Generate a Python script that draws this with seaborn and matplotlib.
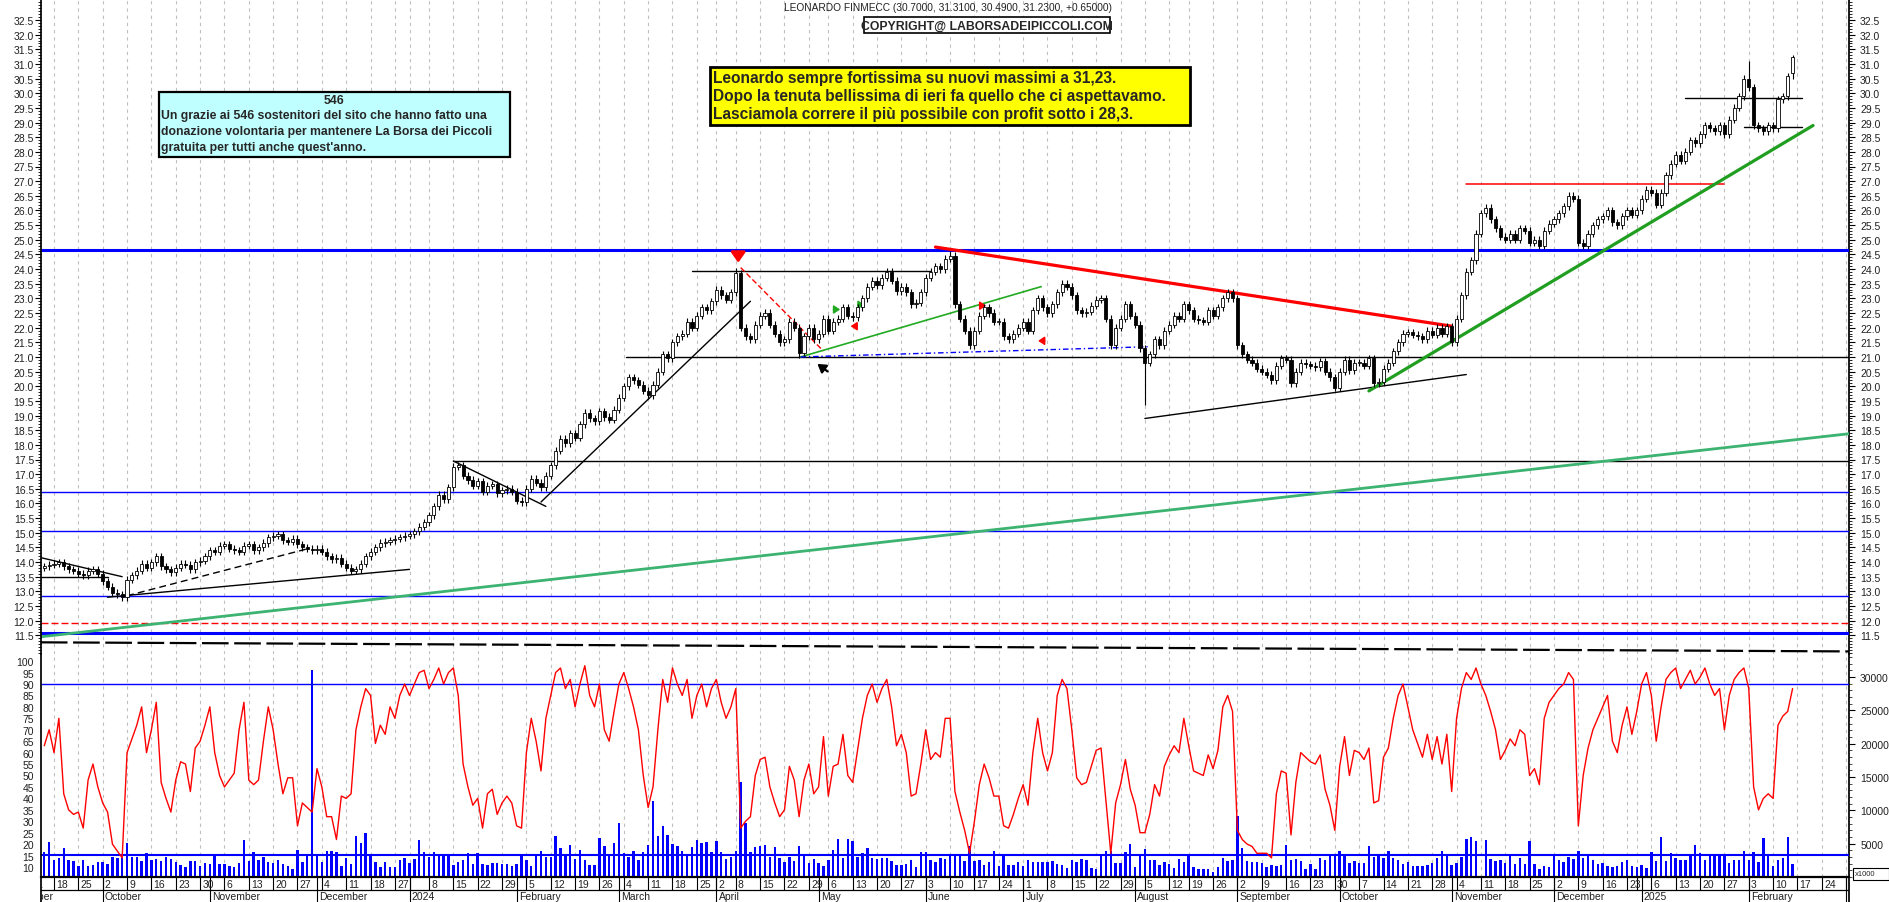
import numpy as np
import pandas as pd
import matplotlib
matplotlib.use("Agg")
import matplotlib.pyplot as plt
from matplotlib.patches import Rectangle
from matplotlib.ticker import MultipleLocator, FormatStrFormatter
import seaborn as sns

sns.set_theme(style="white")
plt.rcParams["font.family"] = ["Liberation Sans", "DejaVu Sans"]

# ------------------------------------------------------------------ data
title_text = "LEONARDO FINMECC (30.7000, 31.3100, 30.4900, 31.2300, +0.65000)"
copyright_text = "COPYRIGHT@ LABORSADEIPICCOLI.COM"
note_lines = ["Leonardo sempre fortissima su nuovi massimi a 31,23.",
              "Dopo la tenuta bellissima di ieri fa quello che ci aspettavamo.",
              "Lasciamola correre il più possibile con profit sotto i 28,3."]
thanks_title = "546"
thanks_lines = ["Un grazie ai 546 sostenitori del sito che hanno fatto una",
                "donazione volontaria per mantenere La Borsa dei Piccoli",
                "gratuita per tutti anche quest'anno."]

holidays = ["2023-12-25", "2023-12-26", "2024-01-01", "2024-03-29", "2024-04-01",
            "2024-05-01", "2024-08-15", "2024-12-24", "2024-12-25", "2024-12-26",
            "2024-12-31", "2025-01-01"]
first_trading_day = "2023-09-14"
axis_last_day = "2025-03-07"
month_names = ["", "January", "February", "March", "April", "May", "June", "July",
               "August", "September", "October", "November", "December"]

first_open = 13.80
last_open = 30.70

# daily closes (Sep 14 2023 - Dec 29 2023)
close_2023 = [13.85, 13.90,
              13.95, 14.00, 13.85, 13.75, 13.70,
              13.60, 13.55, 13.70, 13.75, 13.60,
              13.35, 13.15, 12.95, 12.90, 12.80,
              13.40, 13.55, 13.70, 13.95, 13.80,
              14.00, 14.20, 13.85, 13.75, 13.65,
              13.80, 13.95, 13.90, 13.75, 14.00,
              14.05, 14.20,
              14.40, 14.35, 14.55,
              14.60, 14.45, 14.40, 14.35, 14.55,
              14.60, 14.40, 14.50, 14.65, 14.85,
              14.90, 14.95, 14.75, 14.70, 14.80,
              14.60, 14.50, 14.45, 14.40,
              14.45,
              14.35, 14.20, 14.10, 14.15, 13.95,
              13.80, 13.70, 13.75, 13.95, 14.20,
              14.35, 14.50, 14.65, 14.70, 14.75,
              14.80, 14.85, 14.90]
# Jan 2 2024 - Apr 30 2024
close_2024a = [14.95, 15.05, 15.20, 15.35,
               15.60, 15.90, 16.30, 16.15, 16.55,
               17.25, 17.30, 16.95, 16.80, 16.60,
               16.75, 16.40, 16.60, 16.65, 16.35,
               16.45, 16.50, 16.40, 16.10, 16.05,
               16.50, 16.85, 16.70, 16.55, 16.95,
               17.30, 17.80, 18.20, 18.05, 18.40,
               18.25, 18.70, 19.10, 18.90, 18.80,
               19.15, 18.95, 18.85, 19.20, 19.60,
               20.00, 20.30, 20.20, 20.05, 19.85,
               19.70, 20.05, 20.50, 21.10, 20.95,
               21.50, 21.70, 21.80, 22.20, 22.00,
               22.40, 22.70, 22.60, 22.90,
               23.30, 23.10, 22.95, 23.20,
               23.85, 22.00, 21.70, 21.60, 22.10,
               22.40, 22.50, 22.10, 21.80, 21.50,
               21.60, 22.20, 22.00, 21.15, 21.70,
               22.00, 21.60]
# May 2 2024 - Aug 30 2024
close_2024b = [21.80, 22.30,
               21.90, 22.20, 22.30, 22.70, 22.40,
               22.35, 22.70, 23.00, 23.40, 23.60,
               23.45, 23.70, 23.90, 23.60, 23.25,
               23.40, 23.20, 22.80, 22.85, 23.20,
               23.70, 23.90, 24.10, 24.00, 24.35,
               24.45, 22.80, 22.30, 21.90, 21.40,
               21.90, 22.40, 22.70, 22.50, 22.20,
               22.20, 21.70, 21.60, 21.80, 22.00,
               22.20, 21.90, 22.60, 23.00, 22.70,
               22.50, 22.80, 23.20, 23.50, 23.40,
               23.10, 22.60, 22.50, 22.55, 22.75,
               22.95, 23.00, 22.30, 21.40, 22.00,
               22.30, 22.80, 22.40, 22.10, 21.30,
               20.80, 21.10, 21.60, 21.40, 21.90,
               22.10, 22.40, 22.30, 22.80,
               22.60, 22.30, 22.25, 22.20, 22.60,
               22.40, 22.70, 23.00, 23.20, 23.00]
# Sep 2 2024 - Dec 30 2024
close_2024c = [21.40, 21.10, 20.90, 20.80, 20.60,
               20.50, 20.40, 20.20, 20.70, 20.95,
               20.90, 20.10, 20.50, 20.80, 20.75,
               20.70, 20.65, 20.85, 20.50, 20.30,
               19.95, 20.50, 20.90, 20.55, 20.80,
               20.80, 20.70, 20.95, 20.10, 20.15,
               20.60, 20.80, 21.20, 21.50, 21.80,
               21.85, 21.75, 21.70, 21.60, 21.90,
               21.75, 22.00, 21.80, 22.05, 21.50,
               22.30, 23.10, 23.90, 24.30, 25.20,
               25.90, 26.10, 25.70, 25.40, 25.10,
               25.00, 25.20, 25.00, 25.40, 25.30,
               24.90, 25.00, 24.80, 25.30, 25.55,
               25.70, 25.90, 26.15, 26.50, 26.40,
               24.90, 24.80, 25.20, 25.50, 25.70,
               25.80, 26.00, 25.60, 25.50, 25.80,
               26.00, 25.85, 26.00]
# Jan 2 2025 - Feb 14 2025
close_2025 = [26.40, 26.70,
              26.60, 26.20, 26.60, 27.20, 27.60,
              27.90, 27.70, 28.00, 28.40, 28.30,
              28.60, 28.90, 28.80, 28.70, 28.90,
              28.60, 29.10, 29.50, 29.90, 30.50,
              30.20, 28.90, 28.80, 28.70, 28.90,
              28.80, 29.80, 29.90, 30.58, 31.23]

# notable wick extremes (day index -> price)
wick_high = {142: 24.05, 186: 24.60, 350: 31.10, 359: 31.31}
wick_low = {155: 20.95, 226: 19.35, 359: 30.49}

# lower-panel oscillator (red line)
osc_2023 = [63, 70, 60, 75, 42, 35, 33, 34, 27, 48, 55, 45,
            38, 34, 20, 17, 14,
            60, 66, 72, 80, 60,
            70, 82, 47, 40, 34,
            48, 56, 55, 43, 62,
            65, 72,
            80, 60, 50,
            45, 48, 51, 70, 82,
            48, 46, 48, 65, 80,
            70, 55, 42, 49, 49,
            28, 38, 36, 34,
            53,
            45, 32, 32, 22, 41,
            40, 42, 70, 80, 88,
            85, 64, 72, 68, 80,
            75, 85, 90]
osc_2024a = [85, 90, 95, 96,
             88, 92, 97, 90, 95,
             97, 85, 55, 45, 37,
             40, 27, 42, 44, 33,
             38, 41, 38, 28, 27,
             60, 75, 65, 52, 75,
             85, 95, 97, 88, 92,
             80, 90, 98, 85, 80,
             90, 70, 65, 78, 90,
             95, 88, 80, 70, 50,
             36, 45, 70, 92, 82,
             97, 90, 85, 92, 75,
             85, 90, 80, 88,
             92, 82, 75, 80,
             88, 27, 30, 32, 50,
             57, 58, 45, 38, 32,
             35, 54, 48, 32, 48,
             55, 42]
osc_2024b = [45, 67,
             41, 54, 55, 68, 50,
             47, 61, 75, 85, 90,
             82, 88, 92, 80, 63,
             68, 60, 41, 42, 55,
             70, 57, 60, 58, 75,
             75, 43, 34, 26, 16,
             30, 46, 55, 49, 41,
             41, 28, 27, 33, 40,
             46, 37, 60, 75, 60,
             52, 60, 85, 92, 88,
             70, 49, 46, 47, 54,
             61, 62, 39, 16, 38,
             46, 57, 44, 37, 25,
             25, 33, 46, 41, 54,
             59, 63, 60, 75,
             63, 52, 51, 50, 59,
             53, 61, 80, 85, 78]
osc_2024c = [26, 22, 20, 19, 16,
             16, 16, 14, 42, 52,
             51, 24, 47, 60, 58,
             56, 55, 59, 44, 37,
             26, 54, 67, 50, 61,
             60, 57, 62, 38, 39,
             58, 62, 75, 85, 90,
             80, 70, 64, 58, 68,
             57, 67, 55, 68, 43,
             75, 88, 95, 92, 97,
             90, 85, 78, 70, 57,
             61, 66, 63, 70, 68,
             50, 53, 46, 75, 82,
             85, 88, 90, 95, 92,
             28, 50, 62, 70, 75,
             80, 85, 65, 60, 72,
             80, 68, 78]
osc_2025 = [90, 95,
            85, 65, 80, 92, 95,
            97, 88, 92, 96, 90,
            93, 97, 90, 85, 88,
            70, 85, 92, 95, 97,
            88, 45, 35, 40, 42,
            40, 72, 76, 78, 88]

# volume (right scale, x1000)
vol_2023 = [3700, 5200, 2550, 2850, 4300, 2550, 2450, 1700, 2550, 1700,
            1800, 2200, 2200, 1950, 3050, 2850, 2950, 5100, 3050, 2950,
            2450, 3550, 2550, 2700, 2450, 2950, 2700, 2200, 1800, 1450,
            2350, 2450, 1600, 2050, 1950, 3100, 1950, 1950, 1700, 1450,
            2050, 5600, 2450, 3800, 2550, 3050, 2200, 2050, 2550, 1950,
            1700, 1250, 4050, 2300, 3250, 31000, 3200, 2200, 3850, 3850,
            3700, 1700, 2800, 1950, 6200, 5100, 6550, 3100, 2300, 1450,
            2200, 1450, 1450, 2550, 2800]
vol_2024a = [2050, 2700, 5550, 3700, 3050, 3700,
             3200, 3350, 3200, 1800, 2300, 2600, 3600, 1950, 3600, 1950,
             1850, 2150, 2150, 1950, 1950, 1700, 1950, 3300, 2550, 1700,
             3450,
             3950, 2950, 2950, 6200, 4350, 3300, 4850, 2700, 4100, 2550,
             1850, 1850, 5800, 4650, 3200, 5100, 8100, 3600, 3050, 3850,
             2600, 3700, 4800, 11450, 6200, 7700, 6350, 4950, 4600, 3950,
             3200, 4450, 5550, 5050, 5200, 3700, 5450, 3700, 2700, 3050,
             3850, 14200, 8050, 3700, 4450, 4700, 4800, 2950, 4450, 2850,
             2200, 3050, 2450, 4700,
             3350, 2050, 2700]
vol_2024b = [2100, 1700, 2600, 4100, 5700, 2850, 5700, 5350, 2950, 3600,
             4350, 2850, 2700, 2800, 2850, 2450, 1800, 1800, 1950, 2600,
             1550, 3700, 3800, 2600, 2300, 2800, 2700, 3350, 3350, 3100,
             2350, 4700, 2450, 2550, 1800, 2300, 3950, 1700, 3350, 1800,
             1800, 2300, 1600, 2550, 2300, 2200, 2200, 2300, 2450, 1950,
             1850, 1300, 2600, 2200, 2700, 2550, 1350, 1200, 3350, 3850,
             3850, 2050, 2050, 3800, 4950, 1550, 3350, 4200, 2550, 2550,
             1800, 2200, 1950, 1350, 2700, 2300, 3300, 1550, 1200, 1200,
             1200, 800, 1550, 2800, 2450, 2550]
vol_2024c = [9200, 4350, 2450, 2300, 2200, 2050, 1550, 1800, 1700, 1800,
             4800, 2600, 2700, 2450, 1200, 1950, 1200, 2800, 2550, 3350,
             3450, 3850, 3350, 2050, 2350, 2100, 2100, 4600, 3050, 3100,
             2850, 3850, 2850, 2550, 1950, 2200, 1700, 1600, 1700,
             1800,
             2050, 2800, 3850, 3350, 1800, 2100, 3050, 5700, 5950, 5350,
             200, 5550, 2700, 2450, 2550, 2050, 3350, 1950, 2800, 1950,
             5350, 1950, 1200, 1700, 1550, 3350, 2550, 2300, 2950, 2700,
             3850, 2800, 3350, 2600, 1950, 2100, 1700, 1450, 1700, 2300,
             2550, 1700, 1450]
vol_2025 = [1800, 1300, 3700, 2350, 5950, 2450, 3550, 2850,
            2600, 2550, 3300, 4800, 3600, 2550, 3300, 3350, 3300, 3300,
            2100, 2550, 2600, 3850, 2550, 3700, 2200, 5800, 3350, 1600,
            2550, 2850, 5950, 1950]

# horizontal levels (price)
blue_levels_thick = [24.66, 11.57]
blue_levels_thin = [16.38, 15.05, 12.85]
red_dashed_level = 11.91
osc_level = 90
vol_level = 3350

# drawn trend lines: (day0, price0, day1, price1)
black_lines = [(-0.7, 14.15, 16, 13.50), (-0.7, 13.50, 13, 13.50),
               (13, 12.80, 75, 13.75), (84, 17.45, 103, 15.90),
               (102, 16.05, 145, 22.90), (133, 23.95, 182, 23.95),
               (226, 18.90, 292, 20.40), (337, 29.85, 361, 29.85),
               (349, 28.85, 361, 28.85)]
black_dashed_lines = [(17, 12.85, 54, 14.45)]
black_long_levels = [(84, 17.44), (119.5, 21.0)]
bottom_dashed = (-0.7, 11.26, 370.6, 10.95)
red_thick_lines = [(183, 24.75, 289, 22.05)]
red_hline = (292, 26.90, 345, 26.90)
red_dashed_lines = [(143, 24.05, 160, 21.20)]
green_thin_lines = [(155.3, 21.0, 204.7, 23.4)]
green_thick_lines = [(272, 19.84, 363.2, 28.90)]
green_long_line = (-0.7, 11.45, 370.6, 18.38)
blue_dashdot_lines = [(155.3, 21.0, 227, 21.35)]

# ------------------------------------------------------------------ calendar
cal = pd.bdate_range("2023-09-01", axis_last_day)
cal = cal[~cal.isin(pd.to_datetime(holidays))]
pos0 = cal.get_loc(pd.Timestamp(first_trading_day))
cal_idx = np.arange(len(cal)) - pos0

close = np.array(close_2023 + close_2024a + close_2024b + close_2024c + close_2025, float)
osc = np.array(osc_2023 + osc_2024a + osc_2024b + osc_2024c + osc_2025, float)
vol = np.array(vol_2023 + vol_2024a + vol_2024b + vol_2024c + vol_2025, float)
n = len(close)
x = np.arange(n)
xo = np.arange(len(osc))
xv = np.arange(len(vol))

# ------------------------------------------------------------------ figure
W, H = 1890, 903
fig = plt.figure(figsize=(W / 100, H / 100), dpi=100)
fig.patch.set_facecolor("white")
L, R = 41, 1849
Y_PB, Y_OB, Y_END = 655, 878, 903
XMIN = 2 + (L - 54) / 4.87
XMAX = 2 + (R - 54) / 4.87


def fbox(x0, y0, x1, y1):
    return [x0 / W, 1 - y1 / H, (x1 - x0) / W, (y1 - y0) / H]


ax_p = fig.add_axes(fbox(L, 0, R, Y_PB))
ax_v = fig.add_axes(fbox(L, Y_PB, R, Y_OB))
ax_o = fig.add_axes(fbox(L, Y_PB, R, Y_OB), sharex=ax_v)
ax_x = fig.add_axes(fbox(L, Y_OB, R, Y_END))
ax_pr = ax_p.twinx()

for a in (ax_p, ax_v, ax_o, ax_x, ax_pr):
    a.set_xlim(XMIN, XMAX)
    a.set_facecolor("none")
    for s in a.spines.values():
        s.set_visible(False)
ax_v.set_zorder(1)
ax_o.set_zorder(2)
ax_p.set_zorder(2)

P_TOP, P_BOT = 32.5 + 21 / 29.3, 32.5 - (Y_PB - 21) / 29.3
ax_p.set_ylim(P_BOT, P_TOP)
ax_pr.set_ylim(P_BOT, P_TOP)
O_TOP, O_BOT = 90 + (685 - Y_PB) / 2.2875, 90 - (Y_OB - 685) / 2.2875
ax_o.set_ylim(O_BOT, O_TOP)
ax_v.set_ylim(0, (Y_OB - Y_PB) / 6.67 * 1000)

tick_kw = dict(direction="out", colors="black", labelcolor="#202020", labelsize=7.5)
# left price axis
ax_p.spines["left"].set_visible(True)
ax_p.spines["left"].set_color("black")
ax_p.yaxis.set_major_locator(MultipleLocator(0.5))
ax_p.yaxis.set_minor_locator(MultipleLocator(0.1))
ax_p.yaxis.set_major_formatter(FormatStrFormatter("%.1f"))
ax_p.tick_params(axis="y", which="major", length=4, width=0.8, pad=1, **tick_kw)
ax_p.tick_params(axis="y", which="minor", length=2, width=0.6, direction="out", colors="black")
ax_p.set_yticks([v for v in np.arange(11.5, 32.51, 0.5)])
ax_p.set_xticks([])
# right price axis
ax_pr.spines["right"].set_visible(True)
ax_pr.spines["right"].set_color("black")
ax_pr.set_yticks([v for v in np.arange(11.5, 32.51, 0.5)])
ax_pr.yaxis.set_minor_locator(MultipleLocator(0.1))
ax_pr.yaxis.set_major_formatter(FormatStrFormatter("%.1f"))
ax_pr.tick_params(axis="y", which="major", length=4, width=0.8, pad=4, **tick_kw)
ax_pr.tick_params(axis="y", which="minor", length=2, width=0.6, direction="out", colors="black")
# oscillator axis (left)
ax_o.spines["left"].set_visible(True)
ax_o.spines["left"].set_color("black")
ax_o.spines["bottom"].set_visible(True)
ax_o.spines["bottom"].set_color("black")
ax_o.spines["bottom"].set_linewidth(1.6)
ax_o.set_yticks(np.arange(10, 101, 5))
ax_o.yaxis.set_minor_locator(MultipleLocator(1))
ax_o.tick_params(axis="y", which="major", length=4, width=0.8, pad=1, **tick_kw)
ax_o.tick_params(axis="y", which="minor", length=2, width=0.5, direction="out", colors="black")
ax_o.tick_params(axis="x", which="both", bottom=False, labelbottom=False)
# volume axis (right)
ax_v.spines["right"].set_visible(True)
ax_v.spines["right"].set_color("black")
ax_v.yaxis.tick_right()
ax_v.set_yticks(np.arange(5000, 30001, 5000))
ax_v.yaxis.set_minor_locator(MultipleLocator(1000))
ax_v.yaxis.set_major_formatter(FormatStrFormatter("%d"))
ax_v.tick_params(axis="y", which="major", length=4, width=0.8, pad=4, **tick_kw)
ax_v.tick_params(axis="y", which="minor", length=2, width=0.5, direction="out", colors="black")
ax_v.tick_params(axis="x", which="both", bottom=False, labelbottom=False)

# ------------------------------------------------------------------ calendar labels
week_key = [(d.isocalendar()[0], d.isocalendar()[1]) for d in cal]
week_first = {}
for k, wk in enumerate(week_key):
    week_first.setdefault(wk, k)
year_first = {}
month_first = {}
for k, d in enumerate(cal):
    year_first.setdefault(d.year, k)
    month_first.setdefault((d.year, d.month), k)
year_first_weeks = {week_key[k] for k in year_first.values()}

grid_kw = dict(color="#c0c0c0", lw=0.8, ls=(0, (3.0, 3.5)), zorder=0)
for wk, k in week_first.items():
    xi = cal_idx[k]
    if XMIN < xi < XMAX:
        ax_p.axvline(xi, **grid_kw)
        ax_v.axvline(xi, **grid_kw)

ax_x.set_ylim(25, 0)
ax_x.set_yticks([])
ax_x.set_xticks([])
ax_x.axhline(13, color="black", lw=0.9)
for wk, k in week_first.items():
    xi = cal_idx[k]
    if XMIN - 6 < xi < XMAX + 2:
        ax_x.plot([xi, xi], [0, 13], color="black", lw=0.8, clip_on=True)
        if wk not in year_first_weeks:
            ax_x.text(xi + 0.45, 7, str(cal[k].day), fontsize=7.5, ha="left", va="center",
                      color="#202020", clip_on=True)
for (yy, mm), k in month_first.items():
    xi = cal_idx[k]
    ax_x.plot([xi, xi], [0, 25], color="black", lw=0.8, clip_on=True)
    name = str(yy) if mm == 1 else month_names[mm]
    ax_x.text(xi + 0.45, 19.3, name, fontsize=7.5, ha="left", va="center",
              color="#202020", clip_on=True)
ax_x.spines["left"].set_visible(True)
ax_x.spines["right"].set_visible(True)
ax_x.spines["left"].set_color("black")
ax_x.spines["right"].set_color("black")

# ------------------------------------------------------------------ price panel
for lv in blue_levels_thick:
    ax_p.axhline(lv, color="#0000ff", lw=2.2, zorder=2)
for lv in blue_levels_thin:
    ax_p.axhline(lv, color="#0000ff", lw=1.0, zorder=2)
ax_p.axhline(red_dashed_level, color="#ff0000", lw=1.0, ls=(0, (5, 2.2)), zorder=2)
for x0, lv in black_long_levels:
    ax_p.plot([x0, XMAX], [lv, lv], color="black", lw=1.0, zorder=2)
x0, y0, x1, y1 = bottom_dashed
ax_p.plot([x0, x1], [y0, y1], color="black", lw=1.6, ls=(0, (12, 2.5)), zorder=2, clip_on=False)
x0, y0, x1, y1 = green_long_line
ax_p.plot([x0, x1], [y0, y1], color="#3cb371", lw=2.0, zorder=2)
for x0, y0, x1, y1 in black_lines:
    ax_p.plot([x0, x1], [y0, y1], color="black", lw=1.0, zorder=5)
for x0, y0, x1, y1 in black_dashed_lines:
    ax_p.plot([x0, x1], [y0, y1], color="black", lw=1.0, ls=(0, (5, 3)), zorder=5)
for x0, y0, x1, y1 in red_thick_lines:
    ax_p.plot([x0, x1], [y0, y1], color="#ff0000", lw=2.3, zorder=5)
x0, y0, x1, y1 = red_hline
ax_p.plot([x0, x1], [y0, y1], color="#ff0000", lw=1.1, zorder=5)
for x0, y0, x1, y1 in red_dashed_lines:
    ax_p.plot([x0, x1], [y0, y1], color="#ff0000", lw=1.0, ls=(0, (4, 2)), zorder=5)
for x0, y0, x1, y1 in green_thin_lines:
    ax_p.plot([x0, x1], [y0, y1], color="#22aa22", lw=1.2, zorder=5)
for x0, y0, x1, y1 in green_thick_lines:
    ax_p.plot([x0, x1], [y0, y1], color="#1f9e1f", lw=2.3, zorder=5)
for x0, y0, x1, y1 in blue_dashdot_lines:
    ax_p.plot([x0, x1], [y0, y1], color="#0000ff", lw=1.0, ls=(0, (4, 2, 1, 2)), zorder=5)

# arrows
ax_p.annotate("", xy=(142.5, 24.12), xytext=(142.5, 24.68),
              arrowprops=dict(arrowstyle="-|>,head_width=0.35,head_length=0.5", color="#ff0000", lw=2.2),
              zorder=6)
ax_p.annotate("", xy=(158.3, 20.82), xytext=(161.3, 20.45),
              arrowprops=dict(arrowstyle="-|>,head_width=0.25,head_length=0.4", color="black", lw=1.6),
              zorder=6)
for ax0, ay, ax1, col in [(161.5, 22.62, 164.0, "#22aa22"), (166.5, 22.78, 169.0, "#22aa22"),
                          (167.5, 22.05, 165.0, "#ff0000"), (191.5, 22.75, 194.0, "#ff0000"),
                          (206.0, 21.55, 203.5, "#ff0000")]:
    ax_p.annotate("", xy=(ax1, ay), xytext=(ax0, ay),
                  arrowprops=dict(arrowstyle="-|>,head_width=0.2,head_length=0.3", color=col, lw=1.2),
                  zorder=6)

# candles
opens = np.concatenate([[first_open], close[:-1]])
opens[-1] = last_open
up = close >= opens
body_lo = np.minimum(opens, close)
body_hi = np.maximum(opens, close)
heights = np.maximum(body_hi - body_lo, 0.04)
wick = 0.12
lows = body_lo - wick
highs = body_hi + wick
for k, v in wick_low.items():
    lows[k] = v
for k, v in wick_high.items():
    highs[k] = v
ax_p.vlines(x, lows, highs, color="black", lw=0.8, zorder=6)
ax_p.bar(x, heights, bottom=body_lo, width=0.64,
         color=np.where(up, "white", "black"), edgecolor="black", linewidth=0.6, zorder=7)

# ------------------------------------------------------------------ lower panel
ax_v.bar(xv, vol, width=0.5, color="#0000ff", edgecolor="none", zorder=2)
ax_v.axhline(vol_level, color="#0000ff", lw=1.5, zorder=3)
ax_o.axhline(osc_level, color="#0000ff", lw=1.0, zorder=2)
osc_df = pd.DataFrame({"day": xo, "osc": osc})
sns.lineplot(data=osc_df, x="day", y="osc", ax=ax_o, color="#ff0000", linewidth=1.0,
             estimator=None, legend=False, zorder=4)
ax_o.set_ylabel("")
ax_o.set_xlabel("")
ax_o.set_xlim(XMIN, XMAX)
ax_o.set_ylim(O_BOT, O_TOP)

# ------------------------------------------------------------------ texts / boxes


def frect(x0, y0, x1, y1, fc, lw):
    fig.add_artist(Rectangle((x0 / W, 1 - y1 / H), (x1 - x0) / W, (y1 - y0) / H,
                             transform=fig.transFigure, facecolor=fc, edgecolor="black",
                             linewidth=lw, zorder=20))


def ftext(xp, yp, s, **kw):
    fig.text(xp / W, 1 - yp / H, s, zorder=21, **kw)


ftext(784, 8, title_text, fontsize=7.3, ha="left", va="center", color="#202020")
frect(864, 18, 1110, 34, "white", 1.2)
ftext(987, 26.3, copyright_text, fontsize=8.8, fontweight="bold", ha="center", va="center")

frect(159, 93, 510, 158, "#c0ffff", 1.6)
ftext(334, 100.5, thanks_title, fontsize=8.8, fontweight="bold", ha="center", va="center")
for j, s in enumerate(thanks_lines):
    ftext(161, 116 + 16 * j, s, fontsize=8.8, fontweight="bold", ha="left", va="center")

frect(710, 68, 1190, 126, "#ffff00", 2.0)
for j, s in enumerate(note_lines):
    ftext(713, 78 + 18.5 * j, s, fontsize=11.2, fontweight="bold", ha="left", va="center")

frect(1853, 869, 1889, 881, "white", 0.8)
ftext(1855, 875, "x1000", fontsize=5.5, ha="left", va="center")

fig.savefig("out.png", dpi=100, facecolor="white")
